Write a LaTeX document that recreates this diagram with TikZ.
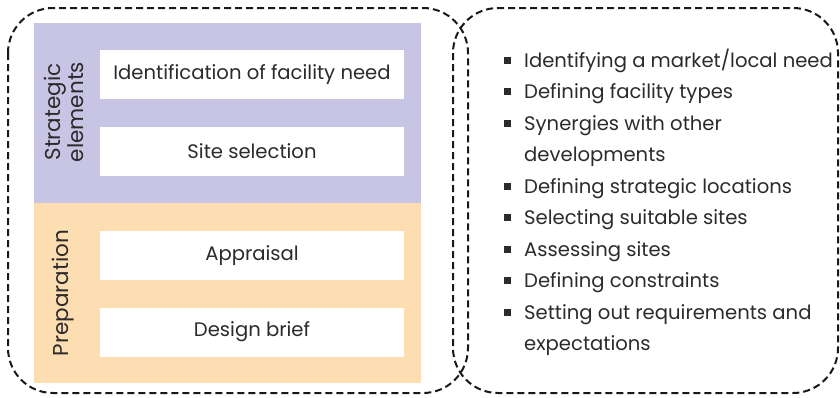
\documentclass[tikz,border=0pt]{standalone}
\usepackage{fontspec}
\setmainfont{Poppins}
\usepackage{tikz}

\definecolor{strategic}{RGB}{200,197,228}
\definecolor{preparation}{RGB}{253,222,178}
\definecolor{ink}{RGB}{45,42,44}
\newcommand\sqbullet{\raisebox{3.5pt}{\rule{7pt}{7pt}}}

\begin{document}
\begin{tikzpicture}[x=1pt,y=-1pt,
  frame/.style={draw=black!90, line width=2pt, dash pattern=on 7pt off 4pt, rounded corners=45pt},
  stagebox/.style={fill=white, text=ink, minimum width=304pt, minimum height=49pt, inner sep=0pt, font=\fontsize{19.6}{22}\selectfont},
  sidelabel/.style={rotate=90, align=center, text=ink, font=\fontsize{21.5}{23}\selectfont}]
\useasboundingbox (0,0) rectangle (840,397);

% stage bands
\fill[strategic] (34,23) rectangle (421,203);
\fill[preparation] (34,203) rectangle (421,383);

\node[sidelabel] (strat) at (64,112) {Strategic\\elements};
\node[sidelabel] (prep) at (63,293) {Preparation};

\node[stagebox] (need) at (252,74.5) {Identification of facility need};
\node[stagebox] (site) at (252,151.5) {Site selection};
\node[stagebox] (appr) at (252,255.5) {Appraisal};
\node[stagebox] (brief) at (252,332) {Design brief};

% tasks
\node[anchor=base west, inner sep=0pt, text=ink, font=\fontsize{19.6}{31.5}\selectfont] (tasks) at (504,67) {%
\begin{tabular}[t]{@{}l@{\hspace{13pt}}l@{}}
\sqbullet & Identifying a market/local need\\
\sqbullet & Defining facility types\\
\sqbullet & Synergies with other\\
 & developments\\
\sqbullet & Defining strategic locations\\
\sqbullet & Selecting suitable sites\\
\sqbullet & Assessing sites\\
\sqbullet & Defining constraints\\
\sqbullet & Setting out requirements and\\
 & expectations
\end{tabular}};

\draw[frame] (8,8) rectangle (468,393);
\draw[frame] (453,8) rectangle (838,393);

\end{tikzpicture}
\end{document}
